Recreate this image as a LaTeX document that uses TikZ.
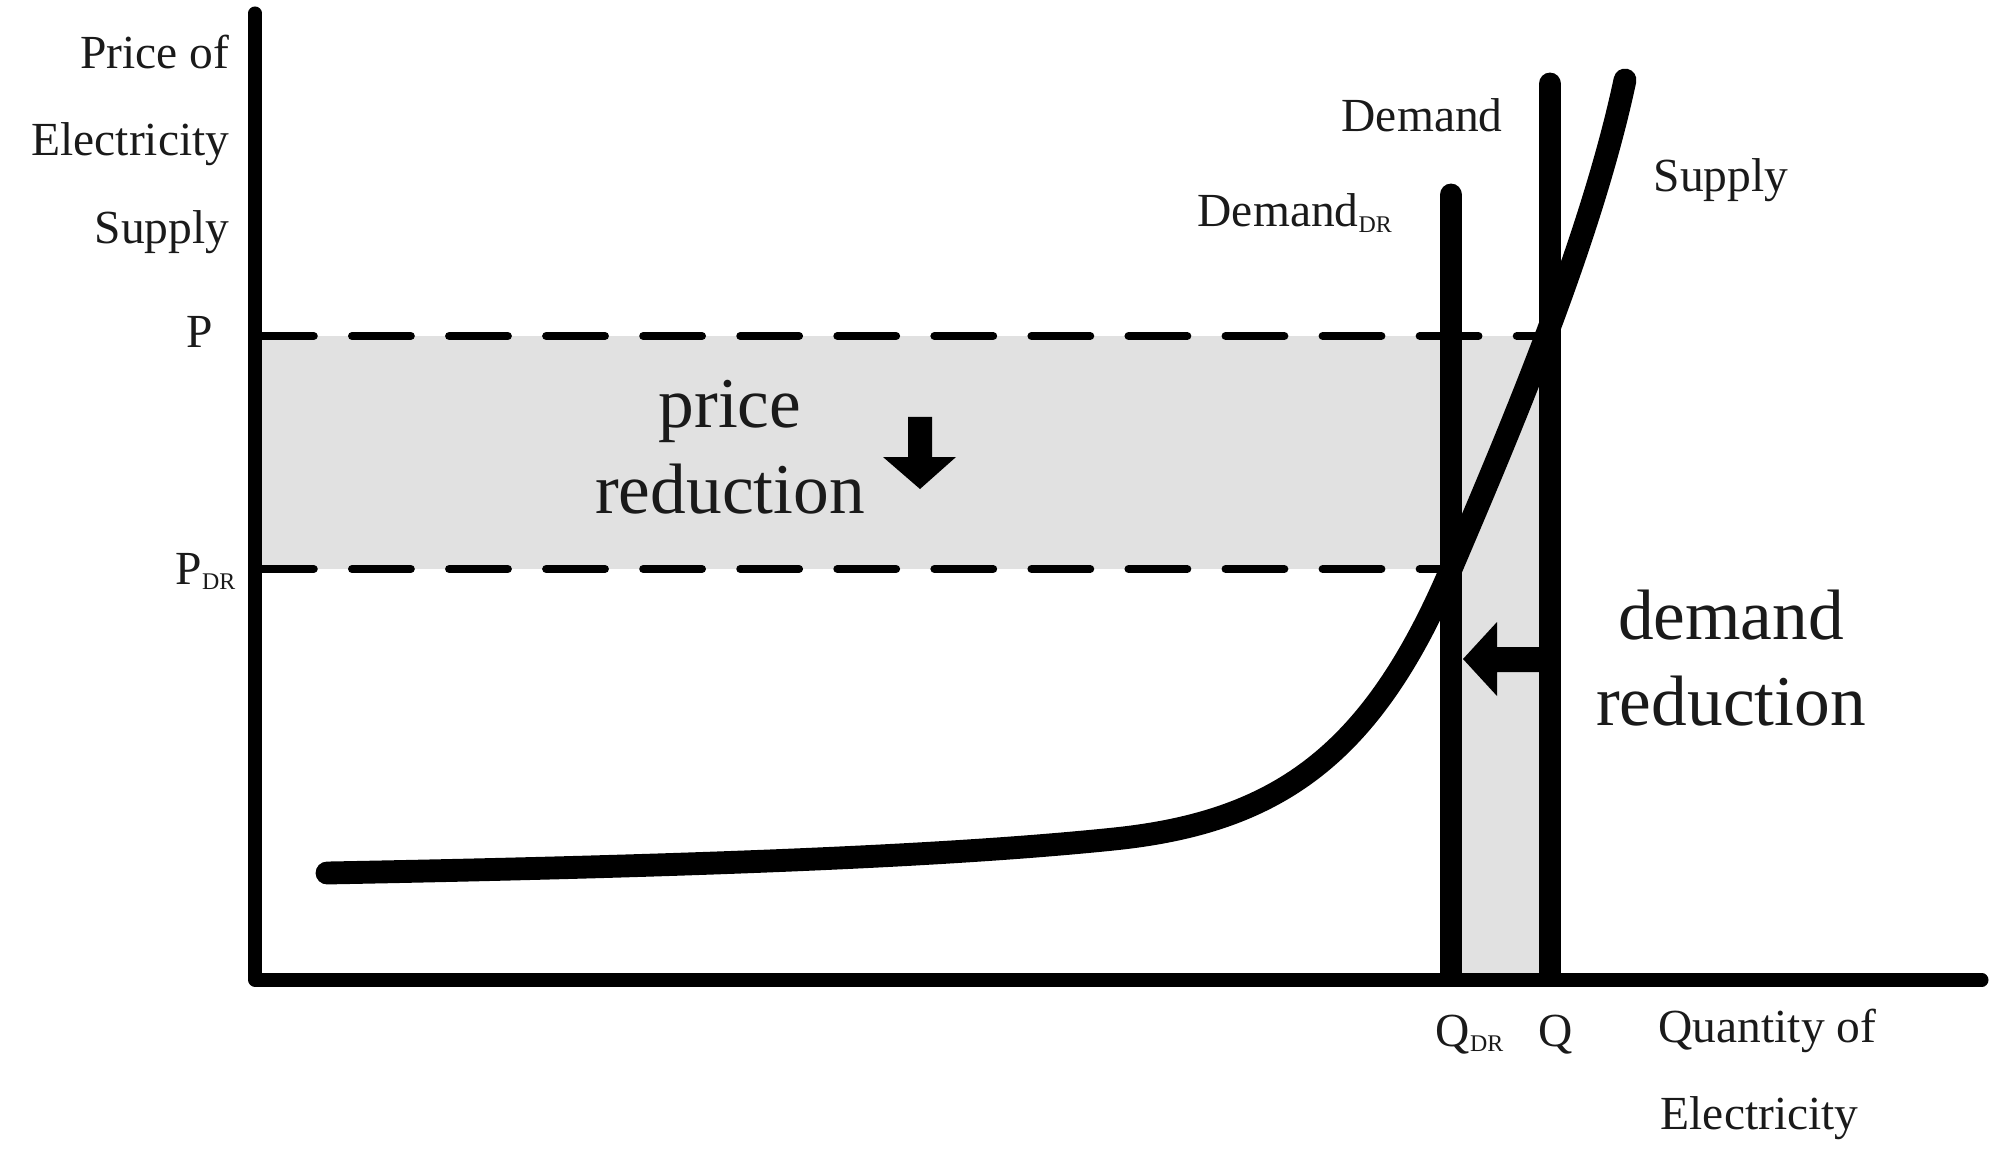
\documentclass[tikz,border=0pt]{standalone}
\usepackage{fontspec}
\setmainfont{Liberation Serif}
\definecolor{shadegray}{HTML}{E1E1E1}
\definecolor{inkblack}{HTML}{000000}
\definecolor{textgray}{HTML}{1A1A1A}
\newcommand{\drsub}{\raisebox{-1.6pt}{\fontsize{6.8}{7}\selectfont DR}}
\begin{document}
\begin{tikzpicture}[x=0.01cm,y=-0.01cm,
  lbl/.style={inner sep=0pt, text=textgray, font=\fontsize{13.5}{16}\selectfont},
  biglbl/.style={inner sep=0pt, text=textgray, align=center, font=\fontsize{20.3}{24.2}\selectfont},
  axisline/.style={draw=inkblack, line width=3.7pt, line cap=round, line join=round},
  demandline/.style={draw=inkblack, line width=6.5pt, line cap=round},
  supplyline/.style={draw=inkblack, line width=6.5pt, line cap=round, line join=round},
  priceline/.style={draw=inkblack, line width=2.3pt, line cap=round, dash pattern=on 16.7pt off 10.9pt},
  shadearea/.style={fill=shadegray, draw=none},
  blockarrow/.style={fill=inkblack, draw=none},
]
\useasboundingbox (0,0) rectangle (2008,1170);

% key coordinates
\coordinate (O) at (255,980);
\coordinate (ytop) at (255,13);
\coordinate (xend) at (1982,980);
\coordinate (pL) at (255,336);
\coordinate (pR) at (1550,336);
\coordinate (pdrL) at (255,569);
\coordinate (pdrR) at (1451,569);
\coordinate (qdrB) at (1451,975);
\coordinate (qdrT) at (1451,195);
\coordinate (qB) at (1550,975);
\coordinate (qT) at (1550,84);
\coordinate (sStart) at (327,873);
\coordinate (sKnee) at (1114,839);
\coordinate (sEnd) at (1625,80);

% shaded areas
\fill[shadearea] (pL) rectangle (1550,569);
\fill[shadearea] (pdrR) rectangle (1550,980);

% dashed price levels
\draw[priceline] (pL) -- (pR);
\draw[priceline] (pdrL) -- (pdrR);

% demand reduction arrow
\fill[blockarrow] (1540,647) -- (1497,647) -- (1497,622) -- (1463,659) -- (1497,696) -- (1497,672) -- (1540,672) -- cycle;

% demand lines
\draw[demandline] (qdrB) -- (qdrT);
\draw[demandline] (qB) -- (qT);

% supply curve
\draw[supplyline] (sStart) .. controls (700,866) and (950,856) .. (sKnee)
  .. controls (1278,822) and (1372,755) .. (pdrR)
  .. controls (1505,442) and (1590,245) .. (sEnd);

% axes
\draw[axisline] (ytop) -- (O) -- (xend);

% price reduction arrow
\fill[blockarrow] (908,417) -- (932,417) -- (932,457) -- (956,457) -- (920,489) -- (883,457) -- (908,457) -- cycle;

% labels
\node[lbl, anchor=base east] (ylab1) at (230,69) {Price of};
\node[lbl, anchor=base east] (ylab2) at (230,156) {Electricity};
\node[lbl, anchor=base east] (ylab3) at (230,244) {Supply};
\node[lbl, anchor=base east] (plab) at (214,348) {P};
\node[lbl, anchor=base east] (pdrlab) at (236,584) {P\drsub};
\node[lbl, anchor=base west] (dlab) at (1341,132) {Demand};
\node[lbl, anchor=base west] (ddrlab) at (1197,227) {Demand\drsub};
\node[lbl, anchor=base west] (slab) at (1653,192) {Supply};
\node[lbl, anchor=base west] (qdrlab) at (1435,1046) {Q\drsub};
\node[lbl, anchor=base west] (qlab) at (1538,1046) {Q};
\node[lbl, anchor=base west] (xlab1) at (1658,1042) {Quantity of};
\node[lbl, anchor=base west] (xlab2) at (1660,1129) {Electricity};
\node[biglbl, anchor=base] (prlab) at (730,513) {price\\reduction};
\node[biglbl, anchor=base] (drlab) at (1731,725) {demand\\reduction};
\end{tikzpicture}
\end{document}
